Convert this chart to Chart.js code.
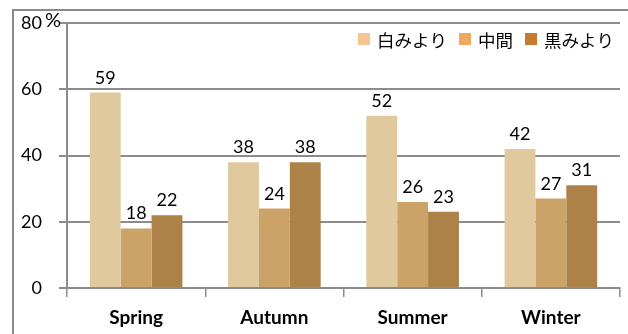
<!DOCTYPE html>
<html>
<head>
<meta charset="utf-8">
<script src="https://cdn.jsdelivr.net/npm/chart.js@4"></script>
<style>
  html, body { margin: 0; padding: 0; background: #ffffff; }
  #wrap { width: 628px; height: 334px; }
</style>
</head>
<body>
<div id="wrap"><canvas id="c" width="628" height="334"></canvas></div>
<script>
// Seasons and the share (%) of each colour tone
const seasons = ['Spring', 'Autumn', 'Summer', 'Winter'];
const seriesNames = ['白みより', '中間', '黒みより'];
const whiteish = [59, 38, 52, 42];
const middle = [18, 24, 26, 27];
const blackish = [22, 38, 23, 31];
const yTicks = [0, 20, 40, 60, 80];

const barColors = ['#E0C99D', '#CBA267', '#AD8249'];
const legendColors = ['#F5C68F', '#EDA95E', '#C57B2F'];
const gridColor = '#8c8c8c';
const latin = 'Lato, "Open Sans", sans-serif';
const cjk = '"Noto Sans CJK JP", "Noto Sans", sans-serif';

// Frame, legend, "%" unit and value labels
const decorations = {
  id: 'decorations',
  afterDraw(chart) {
    const ctx = chart.ctx;
    ctx.save();
    // outer frame
    ctx.strokeStyle = '#8a8a8a';
    ctx.lineWidth = 2;
    ctx.strokeRect(13, 10, 640, 360);

    // unit next to the top tick
    const yScale = chart.scales.y;
    ctx.fillStyle = '#000';
    ctx.font = '20px ' + latin;
    ctx.textAlign = 'left';
    ctx.textBaseline = 'middle';
    ctx.fillText('%', 45, yScale.getPixelForValue(80) - 2);

    // value labels above bars
    ctx.font = '18px ' + latin;
    ctx.textAlign = 'center';
    ctx.textBaseline = 'alphabetic';
    chart.data.datasets.forEach((ds, i) => {
      chart.getDatasetMeta(i).data.forEach((bar, j) => {
        ctx.fillText(String(ds.data[j]), bar.x, bar.y - 9);
      });
    });

    // legend
    ctx.font = '17.5px ' + cjk;
    ctx.textAlign = 'left';
    ctx.textBaseline = 'middle';
    let x = 358;
    const y = 39;
    seriesNames.forEach((name, i) => {
      ctx.fillStyle = legendColors[i];
      ctx.fillRect(x, y - 6, 12, 12);
      ctx.fillStyle = '#000';
      ctx.fillText(name, x + 19, y + 1);
      x += 19 + ctx.measureText(name).width + 12;
    });
    ctx.restore();
  }
};

new Chart(document.getElementById('c'), {
  type: 'bar',
  data: {
    labels: seasons,
    datasets: [
      { label: seriesNames[0], data: whiteish, backgroundColor: barColors[0] },
      { label: seriesNames[1], data: middle, backgroundColor: barColors[1] },
      { label: seriesNames[2], data: blackish, backgroundColor: barColors[2] }
    ]
  },
  options: {
    responsive: false,
    animation: false,
    layout: { padding: { top: 23, right: 8, left: 0, bottom: 0 } },
    datasets: { bar: { categoryPercentage: 0.67, barPercentage: 1.0, borderWidth: 0 } },
    plugins: { legend: { display: false }, tooltip: { enabled: false } },
    scales: {
      x: {
        grid: { offset: true, drawOnChartArea: false, drawTicks: true, tickLength: 9, color: gridColor, lineWidth: 1.5 },
        border: { display: true, color: gridColor, width: 2 },
        ticks: { color: '#000', padding: 9, font: { family: latin, size: 19, weight: 'bold' } },
        afterFit(scale) {
          scale.height = 46;
          scale.paddingLeft = 0;
          scale.paddingRight = 0;
        }
      },
      y: {
        min: 0,
        max: 80,
        afterBuildTicks(scale) { scale.ticks = yTicks.map(v => ({ value: v })); },
        grid: { color: gridColor, lineWidth: 2, tickLength: 8 },
        border: { display: true, color: gridColor, width: 2 },
        ticks: { color: '#000', padding: 17, font: { family: latin, size: 18 } },
        afterFit(scale) {
          scale.width = 67;
          scale.paddingTop = 0;
          scale.paddingBottom = 0;
        }
      }
    }
  },
  plugins: [decorations]
});
</script>
</body>
</html>
